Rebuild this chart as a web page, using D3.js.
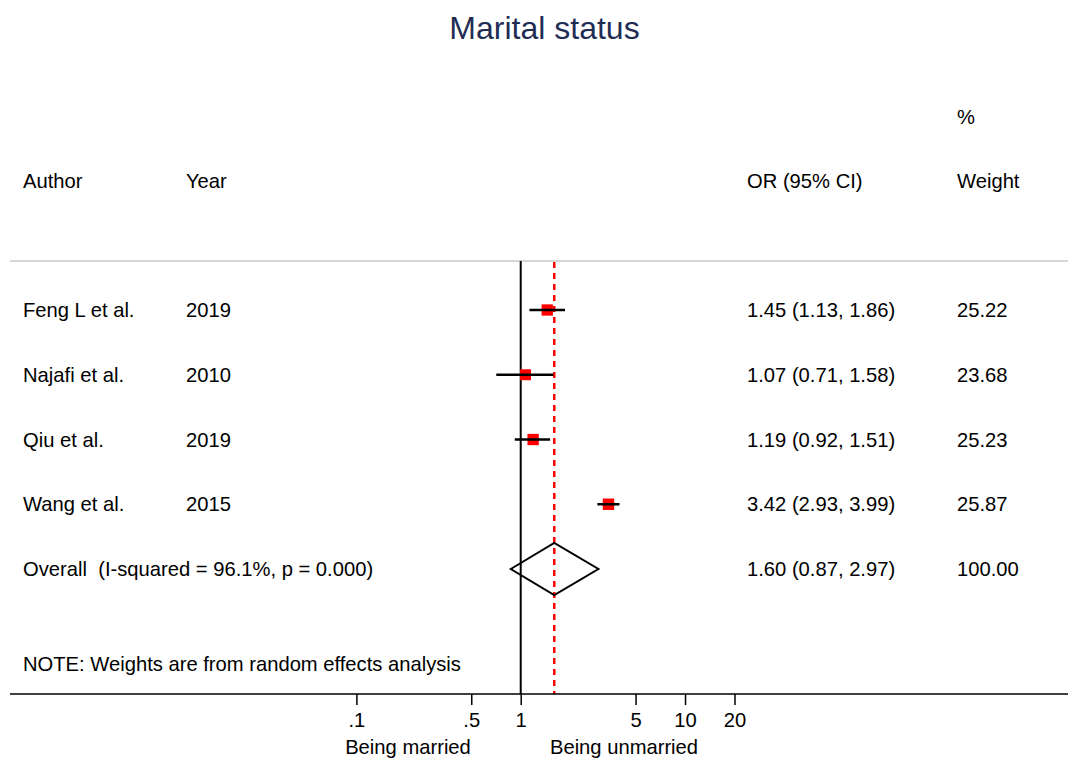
<!DOCTYPE html>
<html>
<head>
<meta charset="utf-8">
<script src="https://cdn.jsdelivr.net/npm/d3@7"></script>
<style>
  html, body { margin: 0; padding: 0; background: #fff; }
  svg { display: block; font-family: "Liberation Sans", Arial, Helvetica, sans-serif; }
  text { white-space: pre; }
</style>
</head>
<body>
<svg id="chart" width="1068" height="760"></svg>
<script>
// Study-level estimates (odds ratios with 95% CI) and random-effects weights
const authors = ["Feng L et al.", "Najafi et al.", "Qiu et al.", "Wang et al."];
const years = ["2019", "2010", "2019", "2015"];
const or = [1.45, 1.07, 1.19, 3.42];
const lower = [1.13, 0.71, 0.92, 2.93];
const upper = [1.86, 1.58, 1.51, 3.99];
const weights = [25.22, 23.68, 25.23, 25.87];

// Pooled estimate
const overallLabel = "Overall  (I-squared = 96.1%, p = 0.000)";
const overall = { or: 1.60, lo: 0.87, hi: 2.97, weight: 100.00 };

const tickValues = [0.1, 0.5, 1, 5, 10, 20];
const tickLabels = [".1", ".5", "1", "5", "10", "20"];

const svg = d3.select("#chart");
const W = 1068;

const x = d3.scaleLog().domain([0.1, 20]).range([356.4, 734.5]);
const rowY = d3.scalePoint().domain(d3.range(5)).range([310, 569]);

const yTop = 261, yAxis = 694;
const col = { author: 23, year: 186, ci: 747, weight: 957 };
const fs = 20.2;

// Title
svg.append("text").attr("x", 544.5).attr("y", 39)
  .attr("text-anchor", "middle").attr("font-size", 32).attr("fill", "#1f2d55")
  .text("Marital status");

// Column headers
const hdr = svg.append("g").attr("font-size", fs).attr("fill", "#000");
hdr.append("text").attr("x", col.weight).attr("y", 124).text("%");
hdr.append("text").attr("x", col.author).attr("y", 188).text("Author");
hdr.append("text").attr("x", col.year).attr("y", 188).text("Year");
hdr.append("text").attr("x", col.ci).attr("y", 188).text("OR (95% CI)");
hdr.append("text").attr("x", col.weight).attr("y", 188).text("Weight");

// Header separator
svg.append("line").attr("x1", 10).attr("x2", W).attr("y1", yTop).attr("y2", yTop)
  .attr("stroke", "#c8c8c8").attr("stroke-width", 1.5);

// Null line at OR = 1
svg.append("line").attr("x1", x(1)).attr("x2", x(1)).attr("y1", yTop).attr("y2", yAxis)
  .attr("stroke", "#000").attr("stroke-width", 2);

// Pooled estimate reference line
svg.append("line").attr("x1", x(overall.or)).attr("x2", x(overall.or))
  .attr("y1", yTop + 1).attr("y2", yAxis)
  .attr("stroke", "#ff0000").attr("stroke-width", 2.5).attr("stroke-dasharray", "6,5");

const fmt = d3.format(".2f");

// Study rows
authors.forEach((a, i) => {
  const y = rowY(i);
  const g = svg.append("g").attr("font-size", fs);
  g.append("text").attr("x", col.author).attr("y", y + 7).text(a);
  g.append("text").attr("x", col.year).attr("y", y + 7).text(years[i]);
  g.append("text").attr("x", col.ci).attr("y", y + 7)
    .text(`${fmt(or[i])} (${fmt(lower[i])}, ${fmt(upper[i])})`);
  g.append("text").attr("x", col.weight).attr("y", y + 7).text(fmt(weights[i]));

  const s = 2.25 * Math.sqrt(weights[i]);
  g.append("rect").attr("x", x(or[i]) - s / 2).attr("y", y - s / 2)
    .attr("width", s).attr("height", s).attr("fill", "#ff0000");
  g.append("line").attr("x1", x(lower[i])).attr("x2", x(upper[i]))
    .attr("y1", y).attr("y2", y).attr("stroke", "#000").attr("stroke-width", 2.5);
});

// Overall row
const yo = rowY(4);
const go = svg.append("g").attr("font-size", fs);
go.append("text").attr("x", col.author).attr("y", yo + 7).text(overallLabel);
go.append("text").attr("x", col.ci).attr("y", yo + 7)
  .text(`${fmt(overall.or)} (${fmt(overall.lo)}, ${fmt(overall.hi)})`);
go.append("text").attr("x", col.weight).attr("y", yo + 7).text(fmt(overall.weight));
const dh = 26;
svg.append("path")
  .attr("d", `M${x(overall.lo)},${yo} L${x(overall.or)},${yo - dh} L${x(overall.hi)},${yo} L${x(overall.or)},${yo + dh} Z`)
  .attr("fill", "none").attr("stroke", "#000").attr("stroke-width", 2);

// Note
svg.append("text").attr("x", col.author).attr("y", 671).attr("font-size", fs)
  .text("NOTE: Weights are from random effects analysis");

// X axis
svg.append("line").attr("x1", 10).attr("x2", W).attr("y1", yAxis).attr("y2", yAxis)
  .attr("stroke", "#000").attr("stroke-width", 1.5);
const axis = d3.axisBottom(x).tickValues(tickValues).tickSize(11).tickPadding(8)
  .tickFormat((d, i) => tickLabels[i]);
const ax = svg.append("g").attr("transform", `translate(0,${yAxis})`).call(axis);
ax.select(".domain").remove();
ax.selectAll(".tick line").attr("stroke", "#000").attr("stroke-width", 1.5);
ax.selectAll(".tick text").attr("font-size", fs).attr("fill", "#000")
  .attr("font-family", "Liberation Sans, Arial, sans-serif");

svg.append("text").attr("x", 408).attr("y", 754).attr("text-anchor", "middle")
  .attr("font-size", fs).text("Being married");
svg.append("text").attr("x", 624).attr("y", 754).attr("text-anchor", "middle")
  .attr("font-size", fs).text("Being unmarried");
</script>
</body>
</html>
